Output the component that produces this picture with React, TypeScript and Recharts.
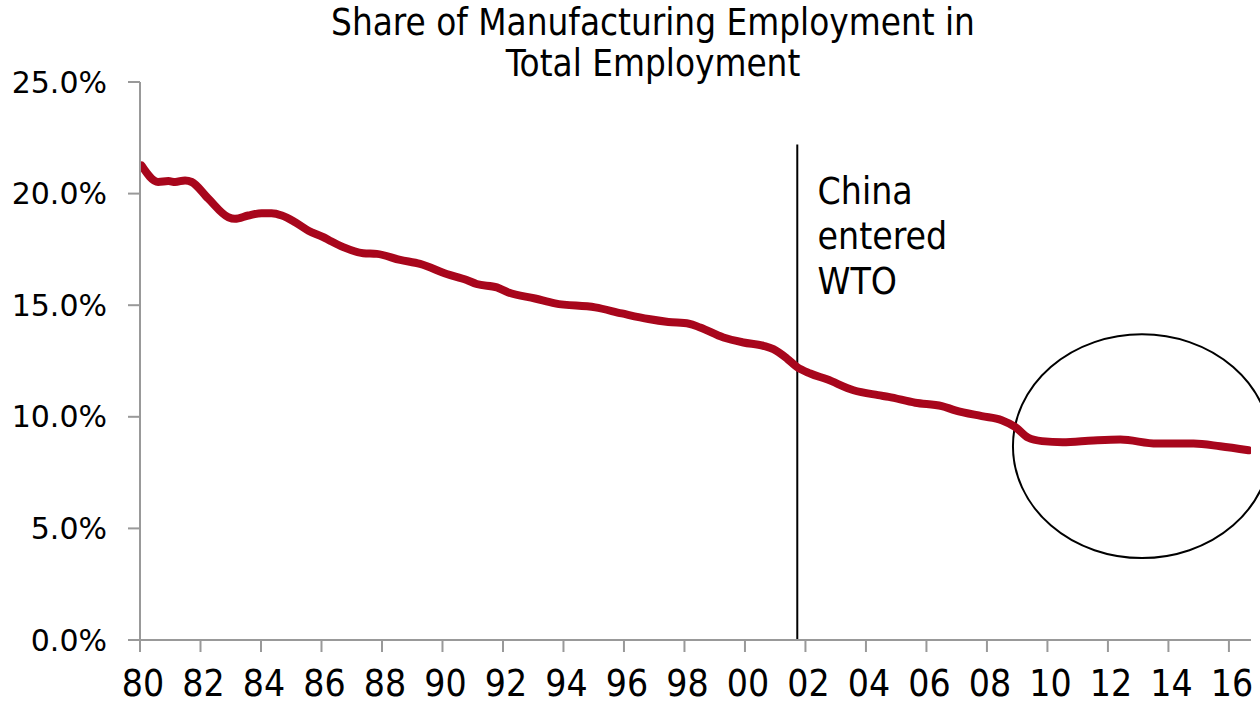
import React from "react";
import {
  LineChart,
  Line,
  XAxis,
  YAxis,
  ReferenceLine,
  ReferenceArea,
  ReferenceDot,
} from "recharts";

const years = [
  1980.05, 1980.6, 1980.94, 1981.16, 1981.49, 1981.71, 1982.26, 1982.92, 1983.14, 1983.58,
  1984.02, 1984.35, 1984.69, 1985.13, 1985.57, 1986.06, 1986.28, 1986.72, 1987.38, 1987.83,
  1988.6, 1989.26, 1990.14, 1990.8, 1991.13, 1991.8, 1992.18, 1993.06, 1993.72, 1995.05,
  1995.93, 1996.81, 1997.47, 1998.15, 1998.52, 1999.29, 1999.95, 2000.61, 2000.94, 2001.39,
  2001.72, 2002.16, 2002.71, 2003.59, 2004.4, 2004.75, 2005.63, 2006.51, 2006.95, 2007.83,
  2008.49, 2008.93, 2009.37, 2009.82, 2010.5, 2011.52, 2012.41, 2013.62, 2014.83, 2015.71,
  2016.65,
];

const shares = [
  21.26, 20.52, 20.56, 20.52, 20.59, 20.52, 19.77, 18.94, 18.87, 19.02,
  19.12, 19.12, 19.02, 18.72, 18.34, 18.05, 17.89, 17.6, 17.33, 17.3,
  17.03, 16.85, 16.4, 16.13, 15.95, 15.8, 15.57, 15.3, 15.08, 14.9,
  14.63, 14.38, 14.25, 14.17, 14.0, 13.55, 13.33, 13.18, 13.03, 12.61,
  12.23, 11.94, 11.68, 11.19, 10.97, 10.89, 10.63, 10.48, 10.29, 10.03,
  9.85, 9.55, 9.06, 8.91, 8.86, 8.94, 8.98, 8.8, 8.8, 8.68,
  8.5,
];

const xTicks = [1980, 1982, 1984, 1986, 1988, 1990, 1992, 1994, 1996, 1998, 2000, 2002, 2004, 2006, 2008, 2010, 2012, 2014, 2016];
const yTicks = [0, 5, 10, 15, 20, 25];

const titleLines = ["Share of Manufacturing Employment in", "Total Employment"];
const annotationLines = ["China", "entered", "WTO"];
const wtoYear = 2001.73;

const data = years.map((y, i) => ({ year: y, share: shares[i] }));

const FONT = "'DejaVu Sans Condensed', 'DejaVu Sans', sans-serif";

const AnnotationText = (props: any) => {
  const { cx, cy } = props;
  return (
    <text x={cx} y={cy} fontFamily={FONT} fontSize={37} fill="#000">
      {annotationLines.map((l, i) => (
        <tspan key={i} x={cx} dy={i === 0 ? 0 : 45}>
          {l}
        </tspan>
      ))}
    </text>
  );
};

const EllipseShape = (props: any) => {
  const { x, y, width, height } = props;
  return (
    <ellipse
      cx={x + width / 2}
      cy={y + height / 2}
      rx={width / 2}
      ry={height / 2}
      fill="none"
      stroke="#000"
      strokeWidth={2}
    />
  );
};

export default function App() {
  return (
    <div style={{ position: "absolute", left: 0, top: 0, width: 1260, height: 703, background: "#fff" }}>
      <div
        style={{
          position: "absolute",
          left: 253,
          width: 800,
          top: 2,
          textAlign: "center",
          fontFamily: FONT,
          fontSize: 36.5,
          lineHeight: "41px",
          color: "#000",
        }}
      >
        {titleLines.map((t, i) => (
          <div key={i}>{t}</div>
        ))}
      </div>
      <LineChart
        width={1260}
        height={703}
        data={data}
        margin={{ top: 82, right: 9, bottom: 0, left: 0 }}
      >
        <XAxis
          dataKey="year"
          type="number"
          domain={[1980, 2016.73]}
          ticks={xTicks}
          tickFormatter={(v: number) => String(v % 100).padStart(2, "0")}
          height={63}
          tickSize={12}
          tickMargin={18}
          stroke="#999"
          strokeWidth={2}
          tick={{ fill: "#000", fontSize: 37, fontFamily: FONT, dx: 3 }}
          allowDataOverflow
        />
        <YAxis
          type="number"
          domain={[0, 25]}
          ticks={yTicks}
          tickFormatter={(v: number) => `${v.toFixed(1)}%`}
          width={140}
          tickSize={12}
          tickMargin={21}
          stroke="#999"
          strokeWidth={2}
          tick={{ fill: "#000", fontSize: 30, fontFamily: "'DejaVu Sans', sans-serif" }}
        />
        <ReferenceLine
          segment={[
            { x: wtoYear, y: 0 },
            { x: wtoYear, y: 22.2 },
          ]}
          stroke="#000"
          strokeWidth={2}
          ifOverflow="visible"
        />
        <ReferenceArea
          x1={2008.86}
          x2={2017.39}
          y1={3.67}
          y2={13.7}
          ifOverflow="visible"
          shape={EllipseShape}
        />
        <ReferenceDot x={2002.4} y={19.55} r={0} ifOverflow="visible" shape={AnnotationText} />
        <Line
          type="monotone"
          dataKey="share"
          stroke="#A8061C"
          strokeWidth={8}
          strokeLinecap="round"
          strokeLinejoin="round"
          dot={false}
          isAnimationActive={false}
        />
      </LineChart>
    </div>
  );
}
